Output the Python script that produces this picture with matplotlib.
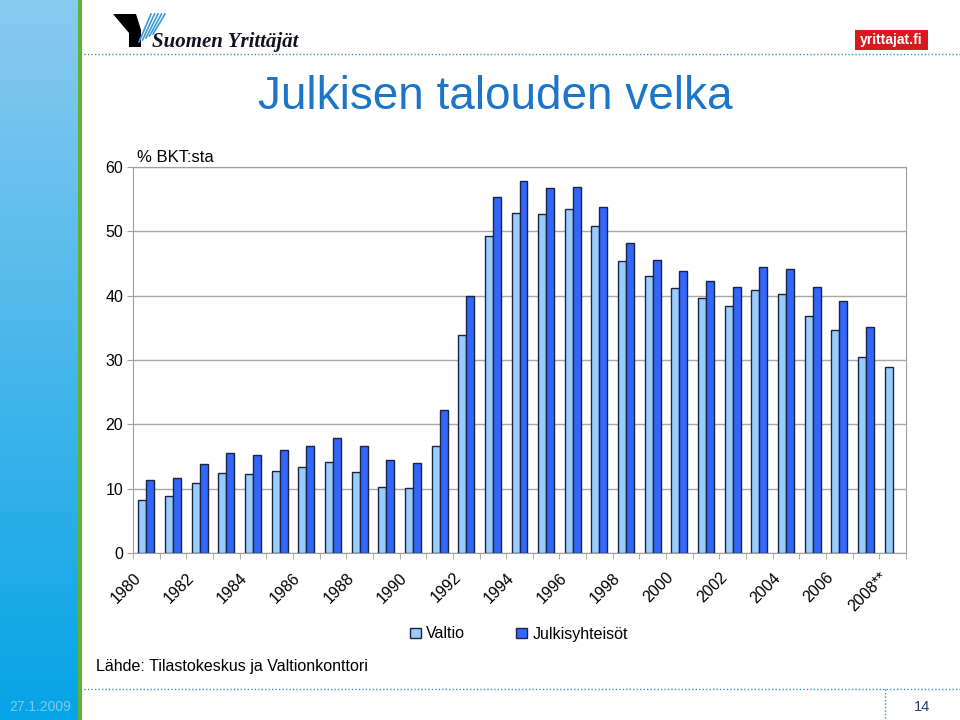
import numpy as np
import matplotlib
matplotlib.use("Agg")
import matplotlib.pyplot as plt
from matplotlib.patches import Rectangle, Polygon
from matplotlib.lines import Line2D
from matplotlib.transforms import ScaledTranslation

plt.rcParams['font.family'] = ['Liberation Sans', 'DejaVu Sans']

# data (% of GDP)
years = list(range(1980, 2009))
valtio = [8.3, 8.9, 10.9, 12.4, 12.3, 12.7, 13.3, 14.1, 12.6, 10.3, 10.1,
          16.7, 33.9, 49.3, 52.8, 52.7, 53.4, 50.8, 45.4, 43.0, 41.2,
          39.7, 38.4, 40.9, 40.3, 36.8, 34.6, 30.5, 28.9]
julkisyhteisot = [11.3, 11.6, 13.9, 15.5, 15.3, 16.0, 16.7, 17.9, 16.7, 14.5, 14.0,
                  22.2, 40.0, 55.3, 57.8, 56.7, 56.9, 53.8, 48.2, 45.5, 43.8,
                  42.3, 41.3, 44.4, 44.1, 41.3, 39.2, 35.1, np.nan]
tick_labels = ["1980", "1982", "1984", "1986", "1988", "1990", "1992", "1994",
               "1996", "1998", "2000", "2002", "2004", "2006", "2008**"]

W, H = 960, 720


def fx(x):
    return x / W


def fy(y):
    return 1 - y / H


fig = plt.figure(figsize=(9.6, 7.2), dpi=100)

# left decorative strip
strip = fig.add_axes([0, 0, 78 / W, 1])
grad = np.linspace(0, 1, 256).reshape(-1, 1)
top_c = np.array([0x8a, 0xca, 0xf0]) / 255
bot_c = np.array([0x05, 0xa4, 0xe6]) / 255
img = top_c[None, None, :] * (1 - grad[:, :, None]) + bot_c[None, None, :] * grad[:, :, None]
strip.imshow(img, aspect='auto', extent=[0, 1, 0, 1], origin='upper')
strip.set_axis_off()
fig.add_artist(Rectangle((fx(78), 0), 4 / W, 1, transform=fig.transFigure,
                         color='#5cb531', lw=0))

# header: logo and dotted line
fig.add_artist(Polygon([(fx(113), fy(14)), (fx(136), fy(14)), (fx(141), fy(30)),
                        (fx(141), fy(47)), (fx(129), fy(47)), (fx(129), fy(33))],
                       closed=True, transform=fig.transFigure, color='black', lw=0))
for k in range(5):
    x0 = 139 + k * 3.5
    fig.add_artist(Line2D([fx(x0), fx(x0 + 12)], [fy(42 - k * 2), fy(14)],
                          transform=fig.transFigure, color='#3a9ad9', lw=1.2))
fig.text(fx(152), fy(47), "Suomen Yrittäjät", family='Liberation Serif',
         style='italic', weight='bold', fontsize=15, color='#111122', va='baseline')
fig.add_artist(Line2D([fx(84), 1], [fy(54), fy(54)], transform=fig.transFigure,
                      color='#3a8fb0', lw=1, ls=(0, (1, 1.5))))
fig.add_artist(Rectangle((fx(855), fy(50)), 73 / W, 20 / H, transform=fig.transFigure,
                         color='#d71920', lw=0))
fig.text(fx(891.5), fy(40), "yrittajat.fi", color='white', weight='bold', fontsize=10,
         ha='center', va='center')

# footer
fig.add_artist(Line2D([fx(84), 1], [fy(689), fy(689)], transform=fig.transFigure,
                      color='#3a8fb0', lw=1, ls=(0, (1, 1.5))))
fig.add_artist(Line2D([fx(885), fx(885)], [fy(689), 0], transform=fig.transFigure,
                      color='#3a8fb0', lw=1, ls=(0, (1, 1.5))))
fig.text(fx(9), fy(707), "27.1.2009", color='#7ccaf0', fontsize=10, va='center')
fig.text(fx(914), fy(707), "14", color='#1f3f6f', fontsize=10.5, va='center')

# title and texts
fig.text(fx(495), fy(97), "Julkisen talouden velka", color='#1b75c8', fontsize=33,
         ha='center', va='center')
fig.text(fx(137), fy(157), "% BKT:sta", fontsize=12, va='center')
fig.text(fx(96), fy(667), "Lähde: Tilastokeskus ja Valtionkonttori", fontsize=11.5,
         va='center')

# chart
ax = fig.add_axes([fx(133), fy(553), (906 - 133) / W, (553 - 167) / H])
x = np.arange(len(years))
bw = 0.3
ax.bar(x - bw / 2, valtio, bw, color='#99ccff', edgecolor='#1a2440', lw=1,
       label='Valtio', zorder=3)
ax.bar(x + bw / 2, julkisyhteisot, bw, color='#3366ff', edgecolor='#1a2440', lw=1,
       label='Julkisyhteisöt', zorder=3)

ax.set_xlim(-0.5, len(years) - 0.5)
ax.set_ylim(0, 60)
ax.set_yticks(range(0, 61, 10))
ax.yaxis.grid(True, color='#a8a8a8', lw=1, zorder=0)
for s in ax.spines.values():
    s.set_color('#a0a0a0')
ax.tick_params(axis='y', colors='#a0a0a0', labelcolor='black', labelsize=11.5,
               length=4, pad=3)

ax.set_xticks(x[::2])
ax.set_xticklabels(tick_labels, rotation=45, ha='right', va='center',
                   rotation_mode='anchor', fontsize=11.5)
ax.tick_params(axis='x', length=0, pad=16)
shift = ScaledTranslation(-8 / 100, 0, fig.dpi_scale_trans)
for lab in ax.get_xticklabels():
    lab.set_transform(lab.get_transform() + shift)
ax.set_xticks(np.arange(-0.5, len(years), 1), minor=True)
ax.tick_params(axis='x', which='minor', length=4, colors='#a0a0a0')

leg = fig.legend(*ax.get_legend_handles_labels(), loc='center',
                 bbox_to_anchor=(fx(519), fy(634)), ncol=2, frameon=False,
                 fontsize=11.5, handlelength=0.65, handleheight=0.65,
                 handletextpad=0.35, columnspacing=3.2)

fig.savefig("out.png", dpi=100)
